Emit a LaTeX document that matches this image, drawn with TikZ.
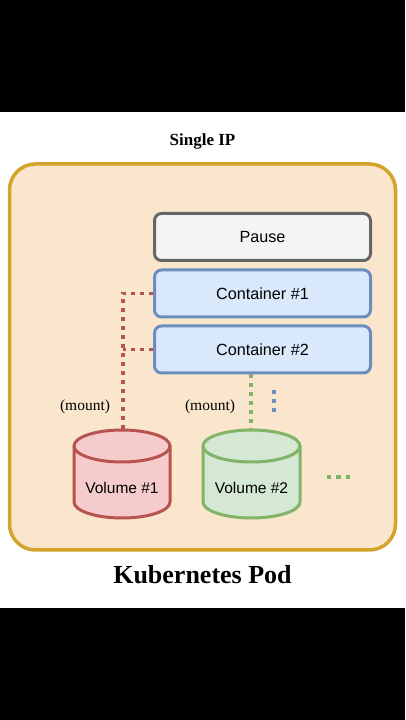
\documentclass[tikz,border=0pt]{standalone}
\usepackage{fontspec}
\setmainfont{Liberation Serif}
\newfontfamily\arialf{Liberation Sans}
\definecolor{podfill}{HTML}{FAE5CD}
\definecolor{poddraw}{HTML}{D4A42A}
\definecolor{pausefill}{HTML}{F4F4F4}
\definecolor{pausedraw}{HTML}{666666}
\definecolor{cfill}{HTML}{DAE8FC}
\definecolor{cdraw}{HTML}{6C8EBF}
\definecolor{rfill}{HTML}{F5CCCB}
\definecolor{rdraw}{HTML}{B85450}
\definecolor{gfill}{HTML}{D5E8D4}
\definecolor{gdraw}{HTML}{82B366}
\tikzset{
  boxstyle/.style={rounded corners=7pt, line width=3pt, minimum width=216pt, minimum height=47pt, inner sep=0pt, font=\arialf\fontsize{16.2}{19}\selectfont},
  dotline/.style={line width=3.8pt, dash pattern=on 3.8pt off 5.2pt},
  voltext/.style={font=\arialf\fontsize{15.5}{18}\selectfont, inner sep=0pt},
  mountlbl/.style={font=\fontsize{15.5}{18}\selectfont, inner sep=0pt},
}
\begin{document}
\begin{tikzpicture}[x=1pt,y=1pt]
\useasboundingbox (0,0) rectangle (405,720);
\fill[black] (0,0) rectangle (405,720);
\fill[white] (0,112) rectangle (405,608);
\node[font=\bfseries\fontsize{17}{20}\selectfont, inner sep=0pt] (title) at (202.5,579) {Single IP};
\draw[poddraw, fill=podfill, line width=3.5pt, rounded corners=26pt] (9.5,170) rectangle (395.5,556);
\node[boxstyle, draw=pausedraw, fill=pausefill] (pause) at (262.5,483) {Pause};
\node[boxstyle, draw=cdraw, fill=cfill] (c1) at (262.5,426.5) {Container \#1};
\node[boxstyle, draw=cdraw, fill=cfill] (c2) at (262.5,370.5) {Container \#2};
% volume 1
\draw[rdraw, fill=rfill, line width=3pt] (74,274) -- (74,218) arc (180:360:48 and 16) -- (170,274) arc (0:180:48 and 16) -- cycle;
\draw[rdraw, line width=3pt] (74,274) arc (180:360:48 and 16);
\coordinate (v1top) at (122,290);
\node[voltext] (v1) at (122,232) {Volume \#1};
% volume 2
\draw[gdraw, fill=gfill, line width=3pt] (203,274) -- (203,218) arc (180:360:48.5 and 16) -- (300,274) arc (0:180:48.5 and 16) -- cycle;
\draw[gdraw, line width=3pt] (203,274) arc (180:360:48.5 and 16);
\coordinate (v2top) at (251,290);
\node[voltext] (v2) at (251.5,232) {Volume \#2};
% connectors
\coordinate (rc) at (123,426.5);
\draw[rdraw, dotline] (c1.west) -- (rc) -- (rc |- v1top);
\draw[rdraw, dotline] (c2.west) -- (rc |- c2.west);
\draw[gdraw, dotline] (c2.south -| v2top) -- (v2top);
\coordinate (b1) at (274,330);
\coordinate (b2) at (274,306);
\draw[cdraw, dotline] (b1) -- (b2);
\coordinate (g1) at (326.5,243);
\coordinate (g2) at (352,243);
\draw[gdraw, line width=4.5pt, dash pattern=on 4.5pt off 5pt] (g1) -- (g2);
\node[mountlbl] (m1) at (85,313) {(mount)};
\node[mountlbl] (m2) at (210,313) {(mount)};
\node[font=\bfseries\fontsize{26}{30}\selectfont, inner sep=0pt] (kp) at (202.5,145) {Kubernetes Pod};
\end{tikzpicture}
\end{document}
